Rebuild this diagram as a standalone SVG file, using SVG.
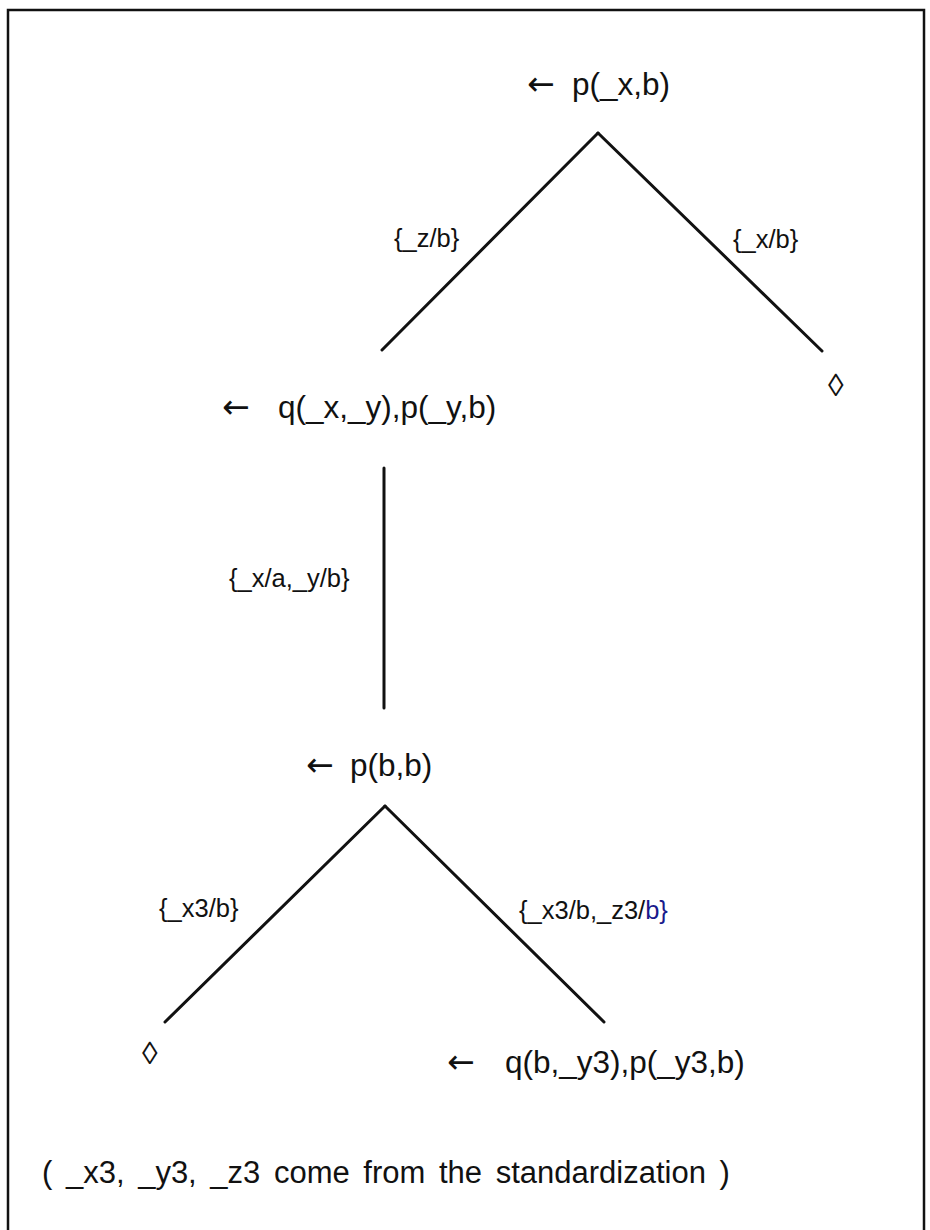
<svg xmlns="http://www.w3.org/2000/svg" width="930" height="1230" viewBox="0 0 930 1230">
  <style>
    .goal { font-family: "Liberation Sans", Arial, sans-serif; font-size: 31.5px; fill: #111; }
    .arrow { font-family: "DejaVu Sans", sans-serif; font-size: 33px; fill: #111; }
    .subst { font-family: "Liberation Sans", Arial, sans-serif; font-size: 25.5px; fill: #111; }
    .note { font-family: "Liberation Sans", Arial, sans-serif; font-size: 31px; fill: #111; word-spacing: 5px; }
    .edge { stroke: #111; stroke-width: 3; stroke-linecap: round; fill: none; }
  </style>
  <rect x="0" y="0" width="930" height="1230" fill="#fff"/>
  <rect x="8" y="10" width="916" height="1230" fill="none" stroke="#111" stroke-width="2.5"/>

  <!-- derivation edges with their substitutions -->
  <g id="connectors">
    <line class="edge" x1="598" y1="133" x2="382" y2="350"/>
    <line class="edge" x1="598" y1="133" x2="822" y2="351"/>
    <line class="edge" x1="384" y1="468" x2="384" y2="708"/>
    <line class="edge" x1="385" y1="806" x2="165" y2="1022"/>
    <line class="edge" x1="385" y1="806" x2="604" y2="1022"/>
    <text class="subst" x="394" y="247">{_z/b}</text>
    <text class="subst" x="733" y="248">{_x/b}</text>
    <text class="subst" x="229" y="587">{_x/a,_y/b}</text>
    <text class="subst" x="159" y="917">{_x3/b}</text>
    <text class="subst" x="519" y="919">{_x3/b,_z3/<tspan fill="#1a1a8c">b}</tspan></text>
  </g>

  <g id="root">
    <text class="arrow" x="527" y="95">←</text>
    <text class="goal" x="572" y="95">p(_x,b)</text>
  </g>
  <g id="success1">
    <text class="goal" x="828" y="396">◊</text>
  </g>
  <g id="goal2">
    <text class="arrow" x="222" y="418">←</text>
    <text class="goal" x="278" y="418">q(_x,_y),p(_y,b)</text>
  </g>
  <g id="goal3">
    <text class="arrow" x="306" y="776">←</text>
    <text class="goal" x="350" y="776">p(b,b)</text>
  </g>
  <g id="success2">
    <text class="goal" x="142" y="1064">◊</text>
  </g>
  <g id="goal4">
    <text class="arrow" x="447" y="1073">←</text>
    <text class="goal" x="505" y="1073">q(b,_y3),p(_y3,b)</text>
  </g>
  <g id="note">
    <text class="note" x="42" y="1183">( _x3, _y3, _z3 come from the standardization )</text>
  </g>
</svg>
